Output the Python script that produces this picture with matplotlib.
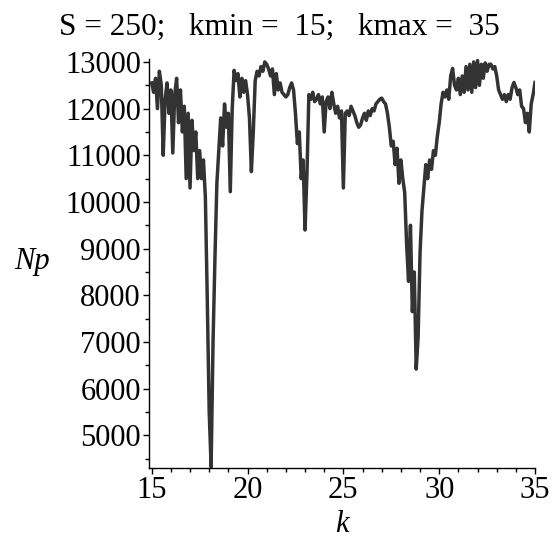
import numpy as np
import matplotlib.pyplot as plt
from matplotlib.ticker import MultipleLocator

Np = [
    12550, 12350, 12650, 12000, 12800, 12500, 11000, 12200, 12550, 11900,  # 15.0-15.9
    12400, 11050, 12300, 12650, 11700, 12400, 11500, 12050, 10500, 11900,  # 16.0-16.9
    10300, 11750, 11100, 11500, 10500, 11100, 10500, 10900, 10100, 7900,   # 17.0-17.9
    5500, 4320, 7000, 8800, 10400, 11100, 11800, 11200, 12100, 11600,      # 18.0-18.9
    11900, 10220, 12000, 12820, 12600, 12750, 12250, 12650, 12350, 12600,  # 19.0-19.9
    12300, 11800, 10650, 11500, 12600, 12800, 12700, 12900, 12800, 13000,  # 20.0-20.9
    12950, 12850, 12700, 12850, 12300, 12750, 12400, 12550, 12350, 12300,  # 21.0-21.9
    12250, 12300, 12450, 12550, 12400, 11900, 11250, 11500, 10500, 10900,  # 22.0-22.9
    9400, 10600, 12300, 12200, 12350, 12150, 12200, 12300, 12100, 12250,   # 23.0-23.9
    11500, 12150, 12250, 12000, 12350, 12100, 11900, 12050, 11800, 11950,  # 24.0-24.9
    10300, 11900, 11950, 11850, 12050, 11950, 11850, 11700, 11600, 11650,  # 25.0-25.9
    11800, 11900, 11750, 11950, 11850, 12000, 11950, 12100, 12150, 12200,  # 26.0-26.9
    12225, 12150, 12100, 11900, 11600, 11200, 11300, 10800, 11150, 10400,  # 27.0-27.9
    10900, 10500, 10200, 9100, 8300, 9500, 7650, 8500, 6420, 7100,         # 28.0-28.9
    8900, 9800, 10300, 10800, 10500, 10900, 10700, 11100, 11000, 11400,    # 29.0-29.9
    11700, 12100, 12350, 12250, 12400, 12200, 12700, 12860, 12500, 12400,  # 30.0-30.9
    12650, 12300, 12700, 12350, 12900, 12400, 12950, 12350, 13000, 12450,  # 31.0-31.9
    13030, 12500, 12950, 12650, 12980, 12800, 12950, 12950, 12850, 12900,  # 32.0-32.9
    12700, 12400, 12300, 12200, 12300, 12150, 12300, 12200, 12450, 12560,  # 33.0-33.9
    12450, 12300, 12400, 12050, 12000, 11700, 11900, 11500, 12100, 12300,  # 34.0-34.9
    12560,                                                                 # 35.0
]
k = np.linspace(15, 35, len(Np))

S = 250
kmin = 15
kmax = 35

plt.rcParams['font.family'] = ['Liberation Serif', 'DejaVu Serif']

fig = plt.figure(figsize=(5.53, 5.40), dpi=100)
ax = fig.add_axes([0.270, 0.1333, 0.6975, 0.757])

ax.plot(k, Np, color='#333333', lw=2.5)

ax.set_xlim(14.875, 35)
ax.set_ylim(4300, 13058)
ax.xaxis.set_major_locator(MultipleLocator(5))
ax.xaxis.set_minor_locator(MultipleLocator(1))
ax.yaxis.set_major_locator(MultipleLocator(1000))
ax.yaxis.set_minor_locator(MultipleLocator(500))
ax.tick_params(which='both', direction='out', labelsize=22, width=1, pad=2)
ax.tick_params(which='major', length=4)
ax.tick_params(which='minor', length=3)

for s in ['top', 'right']:
    ax.spines[s].set_visible(False)
for s in ['left', 'bottom']:
    ax.spines[s].set_linewidth(1)

fig.text(0.505, 1 - 35 / 540, 'S = %d;   kmin =  %d;   kmax =  %d' % (S, kmin, kmax),
         ha='center', va='baseline', fontsize=22.5)
fig.text(32 / 553, 1 - 262 / 540, 'Np', ha='center', va='center', fontsize=22, style='italic')
fig.text(342 / 553, 1 - 532 / 540, 'k', ha='center', va='baseline', fontsize=22, style='italic')

fig.savefig('out.png', dpi=100)
